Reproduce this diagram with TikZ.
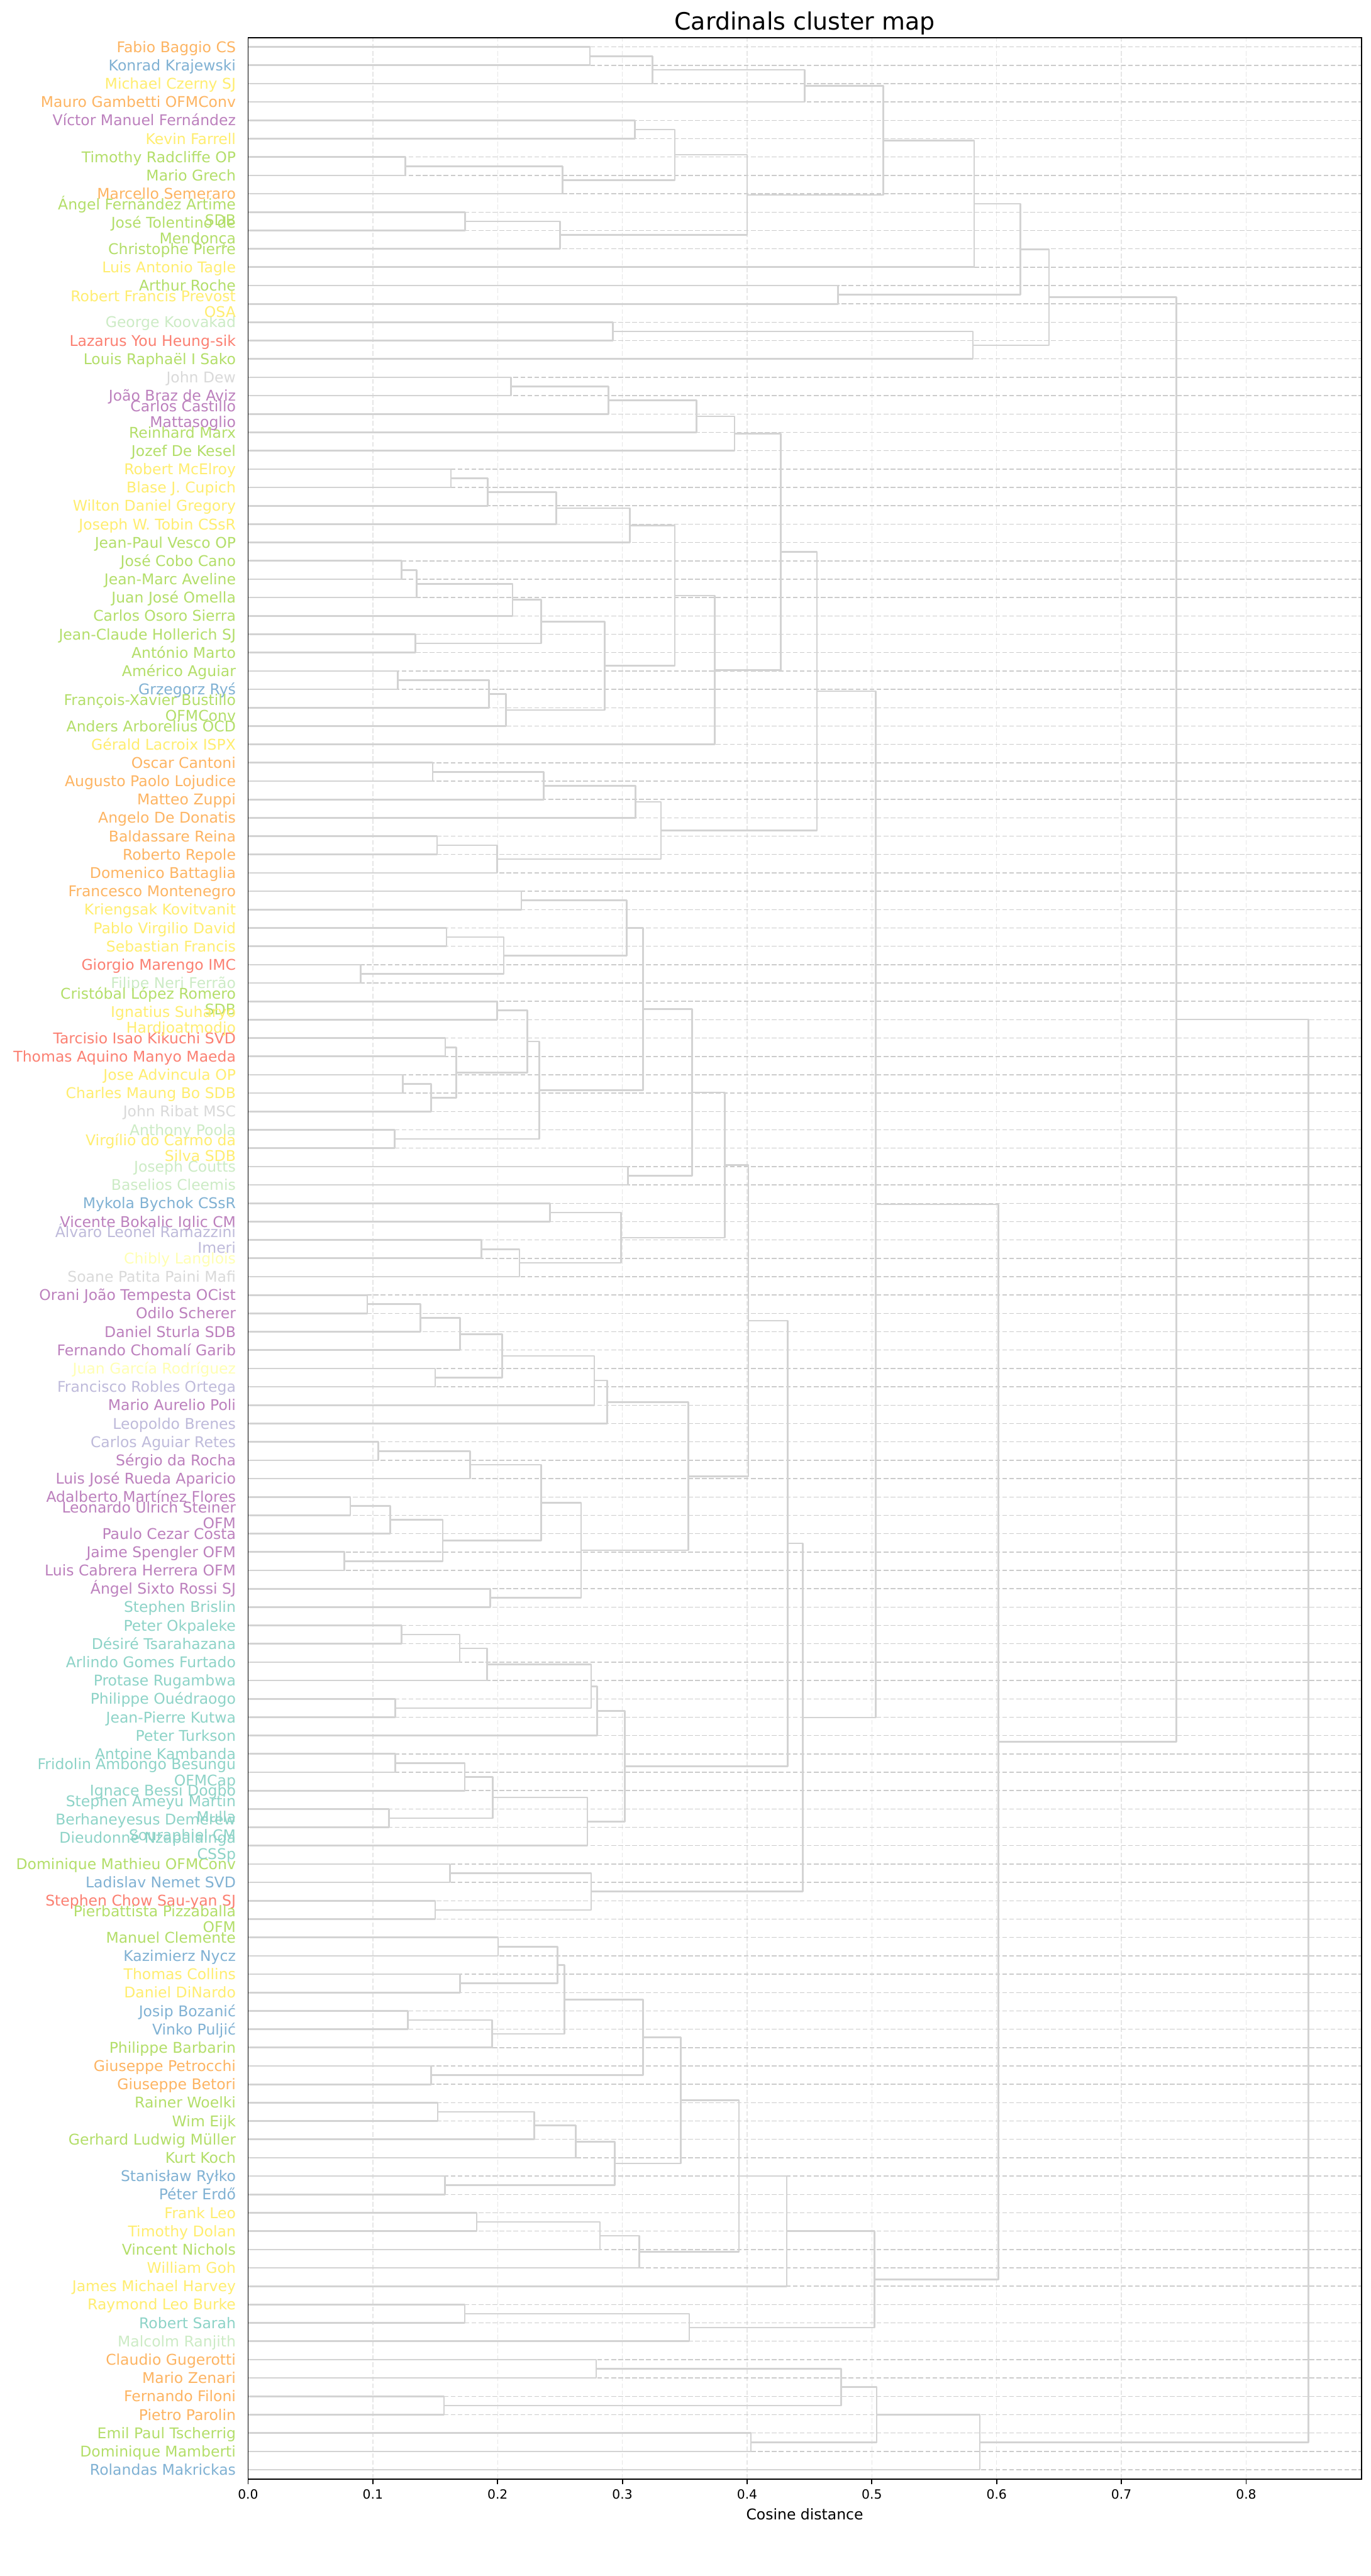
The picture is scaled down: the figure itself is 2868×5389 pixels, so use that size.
\documentclass[tikz,border=0pt]{standalone}
\usepackage{fontspec}
\setmainfont{DejaVu Sans}
\usetikzlibrary{calc}

% palette of the leaf labels
\definecolor{cteal}{HTML}{8DD3C7}
\definecolor{cpale}{HTML}{FFFFB3}
\definecolor{clavender}{HTML}{BEBADA}
\definecolor{cred}{HTML}{FB8072}
\definecolor{cblue}{HTML}{80B1D3}
\definecolor{corange}{HTML}{FDB462}
\definecolor{cgreen}{HTML}{B3DE69}
\definecolor{cgray}{HTML}{D9D9D9}
\definecolor{cpurple}{HTML}{BC80BD}
\definecolor{cmint}{HTML}{CCEBC5}
\definecolor{cyellow}{HTML}{FFED6F}
\definecolor{linkgray}{HTML}{D3D3D3}
\definecolor{gridgray}{HTML}{CCCCCC}
\definecolor{faintgray}{HTML}{E6E6E6}

\tikzset{
  linkline/.style={draw=linkgray, line width=1pt, line join=round},
  leafgrid/.style={draw=gridgray, line width=0.55pt, dash pattern=on 0.1cm off 0.046cm},
  tickgrid/.style={draw=faintgray, line width=0.5pt, dash pattern=on 0.1cm off 0.046cm},
  spine/.style={draw=black, line width=0.7pt},
  leaflabel/.style={anchor=base east, inner sep=0pt, font=\fontsize{8.8}{10.5}\selectfont},
  ticklabel/.style={anchor=north, inner sep=0pt, font=\fontsize{7.6}{9}\selectfont},
}

% one U-shaped link: name, first child, second child, distance
\newcommand{\clusterlink}[4]{%
  \path let \p1=($(#2)!0.5!(#3)$) in coordinate (#1) at ({(519+2610*#4)*0.01cm},\y1);
  \draw[linkline] (#2) -- (#2 -| #1) -- (#3 -| #1) -- (#3);%
}

\begin{document}
\begin{tikzpicture}[x=0.01cm,y=0.01cm]
  \useasboundingbox (0,0) rectangle (2868,5389);
  \coordinate (plotright) at (2848,0);
  \coordinate (plottop) at (0,5310);

  % axis ticks and faint vertical grid
  \foreach \k in {0,...,8} {
    \coordinate (tk\k) at ({519+261*\k},203);
    \ifnum\k>0 \draw[tickgrid] (tk\k) -- (tk\k |- plottop); \fi
    \draw[spine] (tk\k) -- ++(0,-10.8);
    \node[ticklabel] (tl\k) at ($(tk\k)+(0,-21.6)$) {0.\k};
  }

  % leaves and their dashed grid lines
  \foreach \i in {1,...,133} {
    \coordinate (c\i) at (519,{5329.2-38.398*\i});
    \draw[leafgrid] (c\i) -- (c\i -| plotright);
  }

  % dendrogram
  \foreach \nm/\ca/\cb/\hgt in {
    m1to2/c1/c2/0.274, m1to3/m1to2/c3/0.324, m1to4/m1to3/c4/0.446,
    m5to6/c5/c6/0.310, m7to8/c7/c8/0.126, m7to9/m7to8/c9/0.252,
    m5to9/m5to6/m7to9/0.342, m10to11/c10/c11/0.174, m10to12/m10to11/c12/0.250,
    m5to12/m5to9/m10to12/0.400, m1to12/m1to4/m5to12/0.509, m1to13/m1to12/c13/0.582,
    m14to15/c14/c15/0.473, m1to15/m1to13/m14to15/0.619,
    m16to17/c16/c17/0.2925, m16to18/m16to17/c18/0.581, m1to18/m1to15/m16to18/0.642,
    m19to20/c19/c20/0.2106, m19to21/m19to20/c21/0.289, m19to22/m19to21/c22/0.3595,
    m19to23/m19to22/c23/0.390,
    m24to25/c24/c25/0.1626, m24to26/m24to25/c26/0.192, m24to27/m24to26/c27/0.247,
    m24to28/m24to27/c28/0.306,
    m29to30/c29/c30/0.123, m29to31/m29to30/c31/0.135, m29to32/m29to31/c32/0.212,
    m33to34/c33/c34/0.134, m29to34/m29to32/m33to34/0.235,
    m35to36/c35/c36/0.120, m35to37/m35to36/c37/0.193, m35to38/m35to37/c38/0.2066,
    m29to38/m29to34/m35to38/0.286, m24to38/m24to28/m29to38/0.342,
    m24to39/m24to38/c39/0.374, m19to39/m19to23/m24to39/0.427,
    m40to41/c40/c41/0.148, m40to42/m40to41/c42/0.237, m40to43/m40to42/c43/0.3106,
    m44to45/c44/c45/0.1515, m44to46/m44to45/c46/0.1996, m40to46/m40to43/m44to46/0.331,
    m19to46/m19to39/m40to46/0.456,
    m47to48/c47/c48/0.219, m49to50/c49/c50/0.159, m51to52/c51/c52/0.0903,
    m49to52/m49to50/m51to52/0.205, m47to52/m47to48/m49to52/0.3035,
    m53to54/c53/c54/0.1996, m55to56/c55/c56/0.158, m57to58/c57/c58/0.124,
    m57to59/m57to58/c59/0.1467, m55to59/m55to56/m57to59/0.167,
    m53to59/m53to54/m55to59/0.2238, m60to61/c60/c61/0.1176,
    m53to61/m53to59/m60to61/0.2335, m47to61/m47to52/m53to61/0.3167,
    m62to63/c62/c63/0.3044, m47to63/m47to61/m62to63/0.356,
    m64to65/c64/c65/0.242, m66to67/c66/c67/0.187, m66to68/m66to67/c68/0.2176,
    m64to68/m64to65/m66to68/0.299, m47to68/m47to63/m64to68/0.382,
    m69to70/c69/c70/0.0956, m69to71/m69to70/c71/0.138, m69to72/m69to71/c72/0.170,
    m73to74/c73/c74/0.150, m69to74/m69to72/m73to74/0.2035,
    m69to75/m69to74/c75/0.2775, m69to76/m69to75/c76/0.2877,
    m77to78/c77/c78/0.1044, m77to79/m77to78/c79/0.178,
    m80to81/c80/c81/0.082, m80to82/m80to81/c82/0.114, m83to84/c83/c84/0.077,
    m80to84/m80to82/m83to84/0.156, m77to84/m77to79/m80to84/0.235,
    m85to86/c85/c86/0.194, m77to86/m77to84/m85to86/0.267,
    m69to86/m69to76/m77to86/0.353, m47to86/m47to68/m69to86/0.401,
    m87to88/c87/c88/0.123, m87to89/m87to88/c89/0.1696, m87to90/m87to89/c90/0.1916,
    m91to92/c91/c92/0.118, m87to92/m87to90/m91to92/0.275, m87to93/m87to92/c93/0.2797,
    m94to95/c94/c95/0.118, m94to96/m94to95/c96/0.1736, m97to98/c97/c98/0.1128,
    m94to98/m94to96/m97to98/0.196, m94to99/m94to98/c99/0.272,
    m87to99/m87to93/m94to99/0.302, m47to99/m47to86/m87to99/0.4326,
    m100to101/c100/c101/0.1617, m102to103/c102/c103/0.150,
    m100to103/m100to101/m102to103/0.275, m47to103/m47to99/m100to103/0.4446,
    m19to103/m19to46/m47to103/0.503,
    m104to105/c104/c105/0.2004, m106to107/c106/c107/0.170,
    m104to107/m104to105/m106to107/0.248, m108to109/c108/c109/0.128,
    m108to110/m108to109/c110/0.1956, m104to110/m104to107/m108to110/0.2537,
    m111to112/c111/c112/0.1467, m104to112/m104to110/m111to112/0.3167,
    m113to114/c113/c114/0.152, m113to115/m113to114/c115/0.2295,
    m113to116/m113to115/c116/0.2626, m117to118/c117/c118/0.1577,
    m113to118/m113to116/m117to118/0.294, m104to118/m104to112/m113to118/0.3467,
    m119to120/c119/c120/0.1833, m119to121/m119to120/c121/0.282,
    m119to122/m119to121/c122/0.3137, m104to122/m104to118/m119to122/0.3934,
    m104to123/m104to122/c123/0.4317, m124to125/c124/c125/0.1736,
    m124to126/m124to125/c126/0.3537, m104to126/m104to123/m124to126/0.502,
    m19to126/m19to103/m104to126/0.6015, m1to126/m1to18/m19to126/0.744,
    m127to128/c127/c128/0.279, m129to130/c129/c130/0.157,
    m127to130/m127to128/m129to130/0.4753, m131to132/c131/c132/0.403,
    m127to132/m127to130/m131to132/0.5038, m127to133/m127to132/c133/0.5865,
    m1to133/m1to126/m127to133/0.850}
    \clusterlink{\nm}{\ca}{\cb}{\hgt};

  % frame
  \draw[spine] (519,203) rectangle (2848,5310);

  % leaf labels on one line
  \foreach \i/\col/\name in {
    1/corange/Fabio Baggio CS, 2/cblue/Konrad Krajewski, 3/cyellow/Michael Czerny SJ,
    4/corange/Mauro Gambetti OFMConv, 5/cpurple/Víctor Manuel Fernández,
    6/cyellow/Kevin Farrell, 7/cgreen/Timothy Radcliffe OP, 8/cgreen/Mario Grech,
    9/corange/Marcello Semeraro, 12/cgreen/Christophe Pierre, 13/cyellow/Luis Antonio Tagle,
    14/cgreen/Arthur Roche, 16/cmint/George Koovakad, 17/cred/Lazarus You Heung-sik,
    18/cgreen/Louis Raphaël I Sako, 19/cgray/John Dew, 20/cpurple/João Braz de Aviz,
    22/cgreen/Reinhard Marx, 23/cgreen/Jozef De Kesel, 24/cyellow/Robert McElroy,
    25/cyellow/Blase J. Cupich, 26/cyellow/Wilton Daniel Gregory,
    27/cyellow/Joseph W. Tobin CSsR, 28/cgreen/Jean-Paul Vesco OP, 29/cgreen/José Cobo Cano,
    30/cgreen/Jean-Marc Aveline, 31/cgreen/Juan José Omella, 32/cgreen/Carlos Osoro Sierra,
    33/cgreen/Jean-Claude Hollerich SJ, 34/cgreen/António Marto, 35/cgreen/Américo Aguiar,
    36/cblue/Grzegorz Ryś, 38/cgreen/Anders Arborelius OCD, 39/cyellow/Gérald Lacroix ISPX,
    40/corange/Oscar Cantoni, 41/corange/Augusto Paolo Lojudice, 42/corange/Matteo Zuppi,
    43/corange/Angelo De Donatis, 44/corange/Baldassare Reina, 45/corange/Roberto Repole,
    46/corange/Domenico Battaglia, 47/corange/Francesco Montenegro,
    48/cyellow/Kriengsak Kovitvanit, 49/cyellow/Pablo Virgilio David,
    50/cyellow/Sebastian Francis, 51/cred/Giorgio Marengo IMC, 52/cmint/Filipe Neri Ferrão,
    55/cred/Tarcisio Isao Kikuchi SVD, 56/cred/Thomas Aquino Manyo Maeda,
    57/cyellow/Jose Advincula OP, 58/cyellow/Charles Maung Bo SDB, 59/cgray/John Ribat MSC,
    60/cmint/Anthony Poola, 62/cmint/Joseph Coutts, 63/cmint/Baselios Cleemis,
    64/cblue/Mykola Bychok CSsR, 65/cpurple/Vicente Bokalic Iglic CM,
    67/cpale/Chibly Langlois, 68/cgray/Soane Patita Paini Mafi,
    69/cpurple/Orani João Tempesta OCist, 70/cpurple/Odilo Scherer,
    71/cpurple/Daniel Sturla SDB, 72/cpurple/Fernando Chomalí Garib,
    73/cpale/Juan García Rodríguez, 74/clavender/Francisco Robles Ortega,
    75/cpurple/Mario Aurelio Poli, 76/clavender/Leopoldo Brenes,
    77/clavender/Carlos Aguiar Retes, 78/cpurple/Sérgio da Rocha,
    79/cpurple/Luis José Rueda Aparicio, 80/cpurple/Adalberto Martínez Flores,
    82/cpurple/Paulo Cezar Costa, 83/cpurple/Jaime Spengler OFM,
    84/cpurple/Luis Cabrera Herrera OFM, 85/cpurple/Ángel Sixto Rossi SJ,
    86/cteal/Stephen Brislin, 87/cteal/Peter Okpaleke, 88/cteal/Désiré Tsarahazana,
    89/cteal/Arlindo Gomes Furtado, 90/cteal/Protase Rugambwa,
    91/cteal/Philippe Ouédraogo, 92/cteal/Jean-Pierre Kutwa, 93/cteal/Peter Turkson,
    94/cteal/Antoine Kambanda, 96/cteal/Ignace Bessi Dogbo,
    100/cgreen/Dominique Mathieu OFMConv, 101/cblue/Ladislav Nemet SVD,
    102/cred/Stephen Chow Sau-yan SJ, 104/cgreen/Manuel Clemente, 105/cblue/Kazimierz Nycz,
    106/cyellow/Thomas Collins, 107/cyellow/Daniel DiNardo, 108/cblue/Josip Bozanić,
    109/cblue/Vinko Puljić, 110/cgreen/Philippe Barbarin, 111/corange/Giuseppe Petrocchi,
    112/corange/Giuseppe Betori, 113/cgreen/Rainer Woelki, 114/cgreen/Wim Eijk,
    115/cgreen/Gerhard Ludwig Müller, 116/cgreen/Kurt Koch, 117/cblue/Stanisław Ryłko,
    118/cblue/Péter Erdő, 119/cyellow/Frank Leo, 120/cyellow/Timothy Dolan,
    121/cgreen/Vincent Nichols, 122/cyellow/William Goh, 123/cyellow/James Michael Harvey,
    124/cyellow/Raymond Leo Burke, 125/cteal/Robert Sarah, 126/cmint/Malcolm Ranjith,
    127/corange/Claudio Gugerotti, 128/corange/Mario Zenari, 129/corange/Fernando Filoni,
    130/corange/Pietro Parolin, 131/cgreen/Emil Paul Tscherrig,
    132/cgreen/Dominique Mamberti, 133/cblue/Rolandas Makrickas}
    \node[leaflabel, text=\col] (t\i) at ($(c\i)+(-25,-11.3)$) {\name};

  % leaf labels wrapped on two lines
  \foreach \i/\col/\first/\second in {
    10/cgreen/Ángel Fernández Artime/SDB, 11/cgreen/José Tolentino de/Mendonça,
    15/cyellow/Robert Francis Prevost/OSA, 21/cpurple/Carlos Castillo/Mattasoglio,
    37/cgreen/François-Xavier Bustillo/OFMConv, 53/cgreen/Cristóbal López Romero/SDB,
    54/cyellow/Ignatius Suharyo/Hardjoatmodjo, 61/cyellow/Virgílio do Carmo da/Silva SDB,
    66/clavender/Álvaro Leonel Ramazzini/Imeri, 81/cpurple/Leonardo Ulrich Steiner/OFM,
    95/cteal/Fridolin Ambongo Besungu/OFMCap, 97/cteal/Stephen Ameyu Martin/Mulla,
    98/cteal/Berhaneyesus Demerew/Souraphiel CM, 99/cteal/Dieudonné Nzapalainga/CSSp,
    103/cgreen/Pierbattista Pizzaballa/OFM} {
    \node[leaflabel, text=\col] (t\i) at ($(c\i)+(-25,5.4)$) {\first};
    \node[leaflabel, text=\col] (u\i) at ($(c\i)+(-25,-28)$) {\second};
  }

  \node[anchor=base, inner sep=0pt, font=\fontsize{14.2}{17}\selectfont] (title) at (1683.5,5327) {Cardinals cluster map};
  \node[anchor=north, inner sep=0pt, font=\fontsize{8.8}{10.5}\selectfont] (xlab) at (1683.5,142) {Cosine distance};
\end{tikzpicture}
\end{document}
